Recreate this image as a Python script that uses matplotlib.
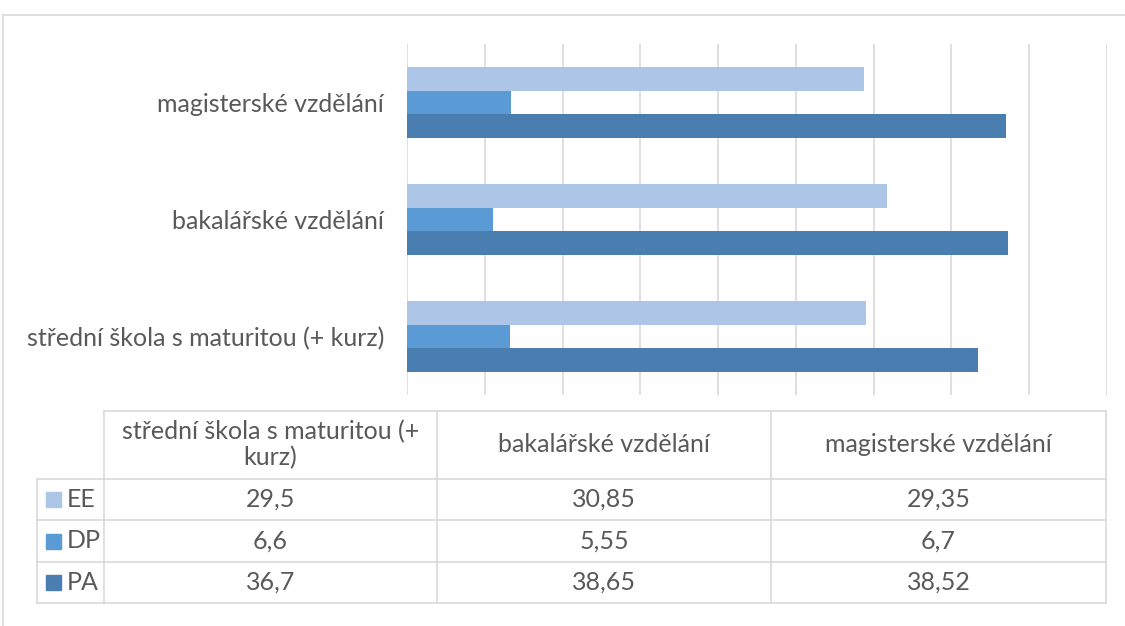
import matplotlib
matplotlib.use("Agg")
import matplotlib.pyplot as plt
import numpy as np

# data (bottom -> top in chart, left -> right in table)
categories = ["střední škola s maturitou (+ kurz)", "bakalářské vzdělání", "magisterské vzdělání"]
table_headers = ["střední škola s maturitou (+\nkurz)", "bakalářské vzdělání", "magisterské vzdělání"]
series_names = ["EE", "DP", "PA"]
ee = [29.5, 30.85, 29.35]
dp = [6.6, 5.55, 6.7]
pa = [36.7, 38.65, 38.52]
value_labels = [["29,5", "30,85", "29,35"],
                ["6,6", "5,55", "6,7"],
                ["36,7", "38,65", "38,52"]]
colors = ["#ADC5E7", "#5B9BD5", "#4A7EB0"]

plt.rcParams['font.family'] = ['Lato', 'DejaVu Sans']
TXT = "#595959"
GRID = "#D9D9D9"
FS = 18

W, H = 1125, 626
fig = plt.figure(figsize=(W / 100, H / 100), dpi=100)

# overlay in pixel coords for frame + data table
ov = fig.add_axes([0, 0, 1, 1])
ov.set_xlim(0, W)
ov.set_ylim(H, 0)
ov.axis("off")

# chart frame
ov.plot([3, W], [15, 15], color=GRID, lw=1.2)
ov.plot([3, 3], [15, H], color=GRID, lw=1.2)

# data table grid
col_x = [104, 437, 771, 1106]
row_y = [411, 479, 520, 562, 603]
left_x = 37
ov.plot([col_x[0], col_x[-1]], [row_y[0], row_y[0]], color=GRID, lw=1.2)
for yy in row_y[1:]:
    ov.plot([left_x, col_x[-1]], [yy, yy], color=GRID, lw=1.2)
ov.plot([left_x, left_x], [row_y[1], row_y[-1]], color=GRID, lw=1.2)
for x in col_x:
    ov.plot([x, x], [row_y[0], row_y[-1]], color=GRID, lw=1.2)

for j, head in enumerate(table_headers):
    cx = (col_x[j] + col_x[j + 1]) / 2
    ov.text(cx, (row_y[0] + row_y[1]) / 2, head, ha="center", va="center",
            color=TXT, fontsize=FS, linespacing=1.15)

for i, name in enumerate(series_names):
    cy = (row_y[i + 1] + row_y[i + 2]) / 2
    ov.add_patch(plt.Rectangle((46, cy - 7.5), 15, 15, color=colors[i]))
    ov.text(67, cy, name, ha="left", va="center", color=TXT, fontsize=FS)
    for j in range(3):
        cx = (col_x[j] + col_x[j + 1]) / 2
        ov.text(cx, cy, value_labels[i][j], ha="center", va="center",
                color=TXT, fontsize=FS)

# bar chart
ax = fig.add_axes([407 / W, 1 - 395 / H, (1107 - 407) / W, (395 - 44) / H])
y = np.arange(len(categories))
h = 0.205
ax.barh(y + h, ee, height=h, color=colors[0], zorder=3)
ax.barh(y, dp, height=h, color=colors[1], zorder=3)
ax.barh(y - h, pa, height=h, color=colors[2], zorder=3)

ax.set_xlim(0, 45)
ax.set_ylim(-0.5, 2.5)
ax.set_xticks(np.arange(0, 46, 5))
ax.xaxis.grid(True, color=GRID, lw=1.2, zorder=0)
ax.tick_params(axis="x", length=0, labelbottom=False)
ax.set_yticks(y)
ax.set_yticklabels(categories, fontsize=FS, color=TXT)
ax.tick_params(axis="y", length=0, pad=16.5)
for s in ax.spines.values():
    s.set_visible(False)
ax.patch.set_alpha(0)

fig.savefig("out.png", dpi=100)
